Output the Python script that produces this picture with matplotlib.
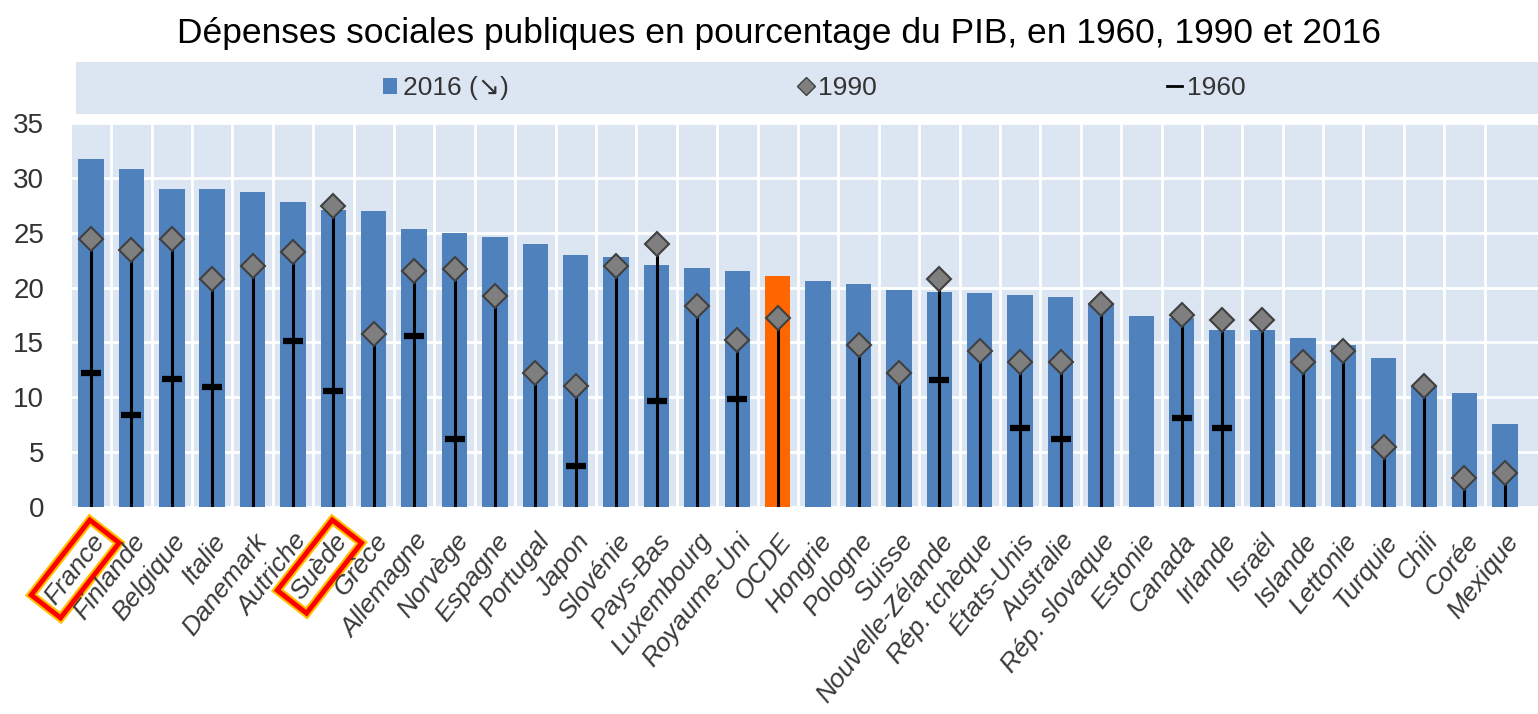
import numpy as np
import matplotlib
matplotlib.use("Agg")
import matplotlib.pyplot as plt
from matplotlib.lines import Line2D
from matplotlib.patches import Patch
import matplotlib.patheffects as pe

countries = ["France", "Finlande", "Belgique", "Italie", "Danemark", "Autriche", "Suède",
             "Grèce", "Allemagne", "Norvège", "Espagne", "Portugal", "Japon", "Slovénie",
             "Pays-Bas", "Luxembourg", "Royaume-Uni", "OCDE", "Hongrie", "Pologne", "Suisse",
             "Nouvelle-Zélande", "Rép. tchèque", "États-Unis", "Australie", "Rép. slovaque",
             "Estonie", "Canada", "Irlande", "Israël", "Islande", "Lettonie", "Turquie",
             "Chili", "Corée", "Mexique"]

v2016 = [31.7, 30.8, 29.0, 29.0, 28.7, 27.8, 27.1, 27.0, 25.3, 25.0, 24.6, 24.0, 23.0,
         22.8, 22.1, 21.8, 21.5, 21.1, 20.6, 20.3, 19.8, 19.6, 19.5, 19.3, 19.1, 18.6,
         17.4, 17.2, 16.1, 16.1, 15.4, 14.8, 13.6, 11.0, 10.4, 7.6]

nan = np.nan
v1990 = [24.4, 23.4, 24.4, 20.8, 22.0, 23.2, 27.4, 15.8, 21.5, 21.7, 19.2, 12.2, 11.0,
         22.0, 24.0, 18.3, 15.2, 17.2, nan, 14.8, 12.2, 20.8, 14.2, 13.2, 13.2, 18.5,
         nan, 17.5, 17.0, 17.0, 13.2, 14.2, 5.5, 11.0, 2.6, 3.1]

v1960 = [12.2, 8.4, 11.7, 10.9, nan, 15.1, 10.6, nan, 15.6, 6.2, nan, nan, 3.7,
         nan, 9.7, nan, 9.8, nan, nan, nan, nan, 11.6, nan, 7.2, 6.2, nan,
         nan, 8.1, 7.2, nan, nan, nan, nan, nan, nan, nan]

title = "Dépenses sociales publiques en pourcentage du PIB, en 1960, 1990 et 2016"
legend_labels = ["2016 (\u2198)", "1990", "1960"]
highlight = ["France", "Suède"]

BLUE = "#4F81BD"
ORANGE = "#FF6600"
BG = "#DCE6F2"
TXT = "#333333"
fam = ["Liberation Sans", "DejaVu Sans"]

W, H = 1538, 714
fig = plt.figure(figsize=(W / 100, H / 100), dpi=100)

# main axes
ax = fig.add_axes([72 / W, 1 - 507 / H, (W - 72) / W, (507 - 123) / H])
ax.set_facecolor(BG)
x = np.arange(len(countries))
colors = [ORANGE if c == "OCDE" else BLUE for c in countries]
ax.bar(x, v2016, width=0.63, color=colors, zorder=2)

a1990 = np.array(v1990, dtype=float)
m = ~np.isnan(a1990)
ax.vlines(x[m], 0, a1990[m], color="black", lw=2.2, zorder=3)
ax.plot(x, v1960, ls="none", marker="_", ms=15, mew=4.5, color="black", zorder=4)
ax.plot(x, v1990, ls="none", marker="D", ms=12, mfc="#7F7F7F", mec="#404040", mew=1.5, zorder=5)

ax.set_xlim(-0.47, 35.82)
ax.set_ylim(0, 35)
ax.set_yticks(np.arange(0, 36, 5))
ax.set_xticks(x)
ax.set_xticks(x[:-1] + 0.5, minor=True)
ax.grid(axis="y", which="major", color="white", lw=2, zorder=1)
ax.grid(axis="x", which="minor", color="white", lw=2, zorder=1)
ax.set_axisbelow(True)
for s in ax.spines.values():
    s.set_visible(False)
ax.tick_params(axis="both", which="both", length=0)
ax.tick_params(axis="y", pad=20, labelsize=20, labelcolor=TXT)
for t in ax.get_yticklabels():
    t.set_family(fam)

ax.set_xticklabels(countries, rotation=52, ha="right", rotation_mode="anchor",
                   fontsize=19, style="italic", color="#3a3a3a", family="Liberation Sans")
ax.tick_params(axis="x", pad=16)
for t in ax.get_xticklabels():
    if t.get_text() in highlight:
        t.set_bbox(dict(boxstyle="square,pad=0.25", fc="none", ec="#FF0000", lw=3.5))
        t.get_bbox_patch().set_path_effects([pe.withStroke(linewidth=6.5, foreground="#FFC000")])

# legend band
lax = fig.add_axes([76 / W, 1 - 114 / H, (W - 76) / W, 52 / H])
lax.set_facecolor(BG)
lax.set_xticks([])
lax.set_yticks([])
for s in lax.spines.values():
    s.set_visible(False)
handles = [Patch(facecolor=BLUE, edgecolor="none"),
           Line2D([], [], ls="none", marker="D", ms=9, mfc="#7F7F7F", mec="#404040"),
           Line2D([], [], color="black", lw=2)]
lax.legend(handles, legend_labels, ncol=3, loc="center", bbox_to_anchor=(0.505, 0.5),
           frameon=False, handlelength=0.55, handleheight=0.55, handletextpad=0.2,
           columnspacing=11.0, prop={"family": fam, "size": 19}, labelcolor=TXT)

fig.text(779 / W, 1 - 33 / H, title, ha="center", va="center", fontsize=25.5,
         family="Liberation Sans", color="black")

fig.savefig("out.png", dpi=100)
